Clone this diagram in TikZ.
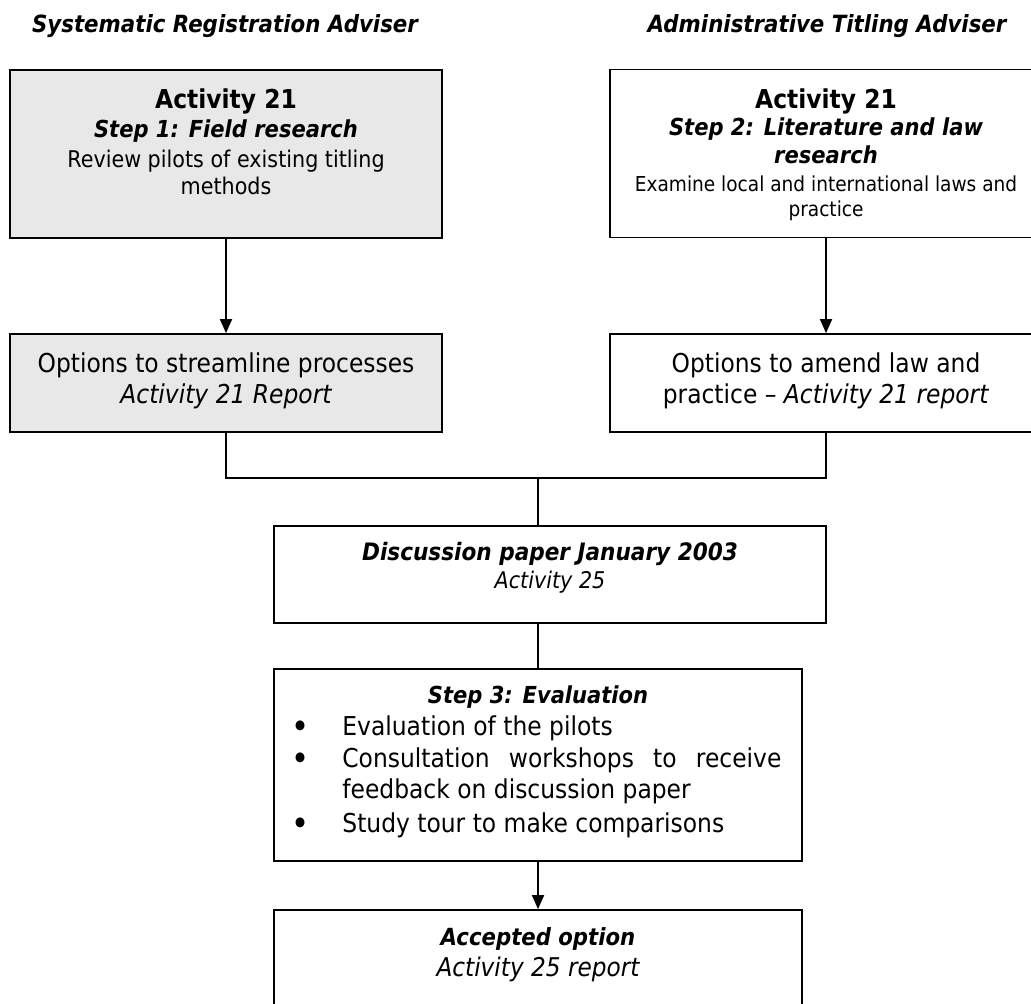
\documentclass[tikz,border=0pt]{standalone}
\usepackage{fontspec}
\setmainfont{DejaVu Sans}[FakeStretch=0.9]
\usetikzlibrary{arrows.meta}
\definecolor{boxgrey}{RGB}{232,232,232}
\newcommand{\fsz}[1]{\fontsize{#1}{#1}\selectfont}
\tikzset{
    BX/.style ={rectangle, draw, line width=0.9pt, inner sep=0pt},
    BG/.style ={BX, fill=boxgrey},
    LN/.style ={line width=0.9pt},
    AR/.style ={LN, -{Triangle[length=7pt,width=6pt]}},
    TX/.style ={anchor=base, inner sep=0pt},
    HD/.style ={TX, font=\fsz{11.85}\bfseries\itshape},
    BI/.style ={TX, font=\fsz{11.7}\bfseries\itshape}}

\begin{document}
\begin{tikzpicture}[x=0.5pt,y=-0.5pt]
        \useasboundingbox (0,0) rectangle (1031,1003);
        % headings
        \node[HD] (hsys) at (225,32) {Systematic Registration Adviser};
        \node[HD] (hadm) at (827,32) {Administrative Titling Adviser};
        % boxes
        \node[BG, minimum width=216pt, minimum height=84pt] (act1) at (226,154) {};
        \node[BX, minimum width=216pt, minimum height=84pt] (act2) at (826,153.5) {};
        \node[BG, minimum width=216pt, minimum height=49pt] (opt1) at (226,383) {};
        \node[BX, minimum width=216pt, minimum height=49pt] (opt2) at (826,383) {};
        \node[BX, minimum width=276pt, minimum height=48.5pt] (disc) at (550,574.5) {};
        \node[BX, minimum width=264pt, minimum height=96pt] (eval) at (538,765) {};
        \node[BX, minimum width=264pt, minimum height=50pt] (acc) at (538,960) {};
        % texts
        \node[TX, font=\fsz{13}\bfseries] (a1t) at (226,108) {Activity 21};
        \node[BI] (a1s) at (226,137) {Step 1: Field research};
        \node[TX, font=\fsz{11.5}] (a1r) at (226,167) {Review pilots of existing titling};
        \node[TX, font=\fsz{11.5}] (a1m) at (226,194) {methods};
        \node[TX, font=\fsz{13}\bfseries] (a2t) at (826,108) {Activity 21};
        \node[BI] (a2s) at (826,135) {Step 2: Literature and law};
        \node[BI] (a2r) at (826,163) {research};
        \node[TX, font=\fsz{10.3}] (a2e) at (826,191) {Examine local and international laws and};
        \node[TX, font=\fsz{10.3}] (a2p) at (826,216) {practice};
        \node[TX, font=\fsz{13}] (o1a) at (226,372) {Options to streamline processes};
        \node[TX, font=\fsz{13}\itshape] (o1b) at (226,403) {Activity 21 Report};
        \node[TX, font=\fsz{13}] (o2a) at (826,372) {Options to amend law and};
        \node[TX, font=\fsz{13}] (o2b) at (826,403) {practice \textendash{} \textit{Activity 21 report}};
        \node[TX, font=\fsz{12}\bfseries\itshape] (d1) at (550,560) {Discussion paper January 2003};
        \node[TX, font=\fsz{11.5}\itshape] (d2) at (550,588) {Activity 25};
        \node[BI] (e0) at (538,703) {Step 3: Evaluation};
        \foreach \n/\y in {1/738,2/770,3/835}
            \node[TX, font=\fsz{17}] (eb\n) at (301,\y) {\textbullet};
        \node[TX, anchor=base west, font=\fsz{13}] (e1) at (342,735) {Evaluation of the pilots};
        \node[TX, anchor=base west, font=\fsz{13}] (e2) at (342,767) {\makebox[219.5pt][s]{Consultation workshops to receive}};
        \node[TX, anchor=base west, font=\fsz{13}] (e3) at (342,798) {feedback on discussion paper};
        \node[TX, anchor=base west, font=\fsz{13}] (e4) at (342,832) {Study tour to make comparisons};
        \node[TX, font=\fsz{11.8}\bfseries\itshape] (c1) at (538,945) {Accepted option};
        \node[TX, font=\fsz{12.9}\itshape] (c2) at (538,976) {Activity 25 report};
        % connectors
        \coordinate (joint) at (538,478);
        \draw[AR] (act1) -- (opt1);
        \draw[AR] (act2) -- (opt2);
        \draw[LN] (opt1.south) |- (joint) -| (opt2.south);
        \draw[LN] (joint) -- (joint |- disc.north);
        \draw[LN] (joint |- disc.south) -- (eval.north);
        \draw[AR] (eval) -- (acc);
    \end{tikzpicture}
\end{document}
